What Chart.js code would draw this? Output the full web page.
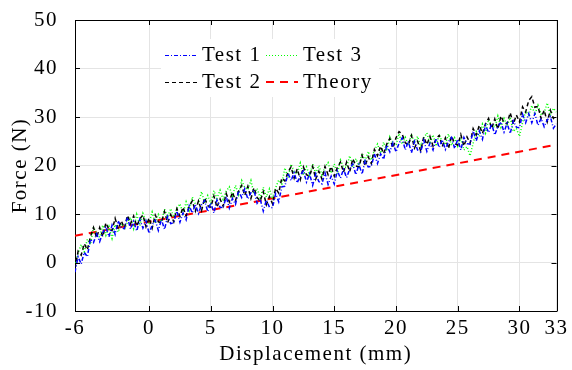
<!DOCTYPE html>
<html>
<head>
<meta charset="utf-8">
<script src="https://cdn.jsdelivr.net/npm/chart.js@4.4.1/dist/chart.umd.min.js"></script>
<style>
  html, body { margin: 0; padding: 0; background: #fff; }
  #wrap { width: 572px; height: 370px; }
</style>
</head>
<body>
<div id="wrap"><canvas id="myChart"></canvas></div>
<script>
// displacement (mm), sampled every 0.25 mm
const displacement = [
  -6, -5.75, -5.5, -5.25, -5, -4.75, -4.5, -4.25, -4, -3.75, -3.5, -3.25,
  -3, -2.75, -2.5, -2.25, -2, -1.75, -1.5, -1.25, -1, -0.75, -0.5, -0.25,
  0, 0.25, 0.5, 0.75, 1, 1.25, 1.5, 1.75, 2, 2.25, 2.5, 2.75,
  3, 3.25, 3.5, 3.75, 4, 4.25, 4.5, 4.75, 5, 5.25, 5.5, 5.75,
  6, 6.25, 6.5, 6.75, 7, 7.25, 7.5, 7.75, 8, 8.25, 8.5, 8.75,
  9, 9.25, 9.5, 9.75, 10, 10.25, 10.5, 10.75, 11, 11.25, 11.5, 11.75,
  12, 12.25, 12.5, 12.75, 13, 13.25, 13.5, 13.75, 14, 14.25, 14.5, 14.75,
  15, 15.25, 15.5, 15.75, 16, 16.25, 16.5, 16.75, 17, 17.25, 17.5, 17.75,
  18, 18.25, 18.5, 18.75, 19, 19.25, 19.5, 19.75, 20, 20.25, 20.5, 20.75,
  21, 21.25, 21.5, 21.75, 22, 22.25, 22.5, 22.75, 23, 23.25, 23.5, 23.75,
  24, 24.25, 24.5, 24.75, 25, 25.25, 25.5, 25.75, 26, 26.25, 26.5, 26.75,
  27, 27.25, 27.5, 27.75, 28, 28.25, 28.5, 28.75, 29, 29.25, 29.5, 29.75,
  30, 30.25, 30.5, 30.75, 31, 31.25, 31.5, 31.75, 32, 32.25, 32.5, 32.75,
  33
];

// force (N) per test
const test1 = [
  -2.0, 1.2, -0.3, 2.1, 1.2, 4.8, 4.1, 5.9, 4.3, 6.2, 7.4, 5.3,
  7.7, 5.8, 8.6, 7.1, 7.0, 9.3, 6.9, 8.5, 6.5, 8.9, 7.1, 8.6,
  6.0, 7.7, 8.7, 6.6, 8.9, 6.8, 9.5, 8.0, 8.2, 10.6, 8.3, 10.2,
  8.8, 11.7, 10.2, 12.0, 10.1, 11.9, 12.8, 10.5, 12.3, 10.2, 12.9, 11.4,
  11.3, 13.6, 11.2, 13.2, 12.0, 14.8, 13.4, 15.2, 13.1, 14.4, 14.9, 12.2,
  13.1, 10.6, 12.9, 11.4, 11.3, 14.2, 12.5, 15.6, 15.7, 18.4, 16.9, 18.5,
  16.4, 18.0, 18.9, 16.6, 18.3, 15.9, 18.3, 16.7, 16.2, 18.5, 16.1, 17.8,
  16.2, 18.9, 17.4, 19.2, 17.5, 19.3, 20.3, 18.1, 20.2, 18.2, 21.0, 19.7,
  19.8, 22.4, 20.4, 22.4, 21.3, 24.2, 22.8, 24.7, 22.8, 24.6, 25.7, 23.2,
  25.0, 22.6, 25.0, 23.2, 22.8, 25.2, 22.9, 24.6, 23.2, 25.6, 23.7, 25.3,
  23.3, 24.9, 25.8, 23.5, 25.4, 23.2, 25.8, 24.5, 24.4, 27.1, 25.1, 27.1,
  25.4, 28.3, 26.8, 28.6, 26.3, 28.0, 29.0, 26.9, 28.7, 26.6, 29.2, 27.9,
  27.8, 30.6, 28.8, 30.7, 28.8, 30.7, 28.3, 29.7, 28.0, 29.4, 30.1, 27.7,
  28.6
];

const test2 = [
  -1.2, 2.3, 1.5, 3.9, 2.6, 5.3, 7.2, 5.1, 7.2, 5.3, 8.2, 6.8,
  6.6, 9.1, 6.9, 8.6, 7.1, 9.7, 8.0, 9.6, 7.5, 9.0, 9.8, 7.4,
  9.2, 7.1, 9.8, 8.4, 8.2, 10.5, 8.2, 9.9, 8.4, 11.1, 9.5, 11.4,
  9.6, 11.6, 12.7, 10.6, 12.7, 10.7, 13.3, 11.7, 11.4, 13.7, 11.4, 13.1,
  11.6, 14.2, 12.5, 14.5, 12.8, 14.7, 15.9, 13.8, 15.7, 13.2, 15.4, 13.4,
  12.7, 14.6, 11.9, 13.6, 12.1, 15.3, 14.3, 17.4, 16.8, 18.6, 19.7, 17.4,
  19.3, 17.1, 19.7, 18.1, 17.8, 19.8, 17.2, 18.8, 17.2, 19.8, 18.1, 19.8,
  17.8, 19.6, 20.7, 18.6, 20.7, 18.7, 21.4, 19.9, 19.7, 22.1, 19.9, 21.8,
  20.4, 23.3, 22.0, 24.0, 22.4, 24.4, 25.6, 23.6, 25.7, 27.0, 26.5, 24.7,
  24.2, 26.2, 23.6, 25.0, 23.0, 25.9, 24.3, 26.0, 24.0, 25.5, 26.2, 23.9,
  25.7, 23.5, 26.1, 24.5, 24.2, 26.4, 24.0, 25.9, 24.6, 27.6, 26.3, 28.3,
  26.6, 28.6, 29.7, 27.6, 29.6, 27.5, 30.2, 28.8, 28.6, 30.9, 28.5, 30.4,
  29.0, 32.1, 31.0, 33.4, 34.2, 32.0, 32.2, 29.7, 31.4, 29.0, 31.4, 29.7,
  30.4
];

const test3 = [
  -0.7, 1.9, 3.7, 2.2, 4.8, 3.7, 7.3, 5.9, 5.2, 7.7, 5.6, 7.4,
  5.0, 7.8, 6.3, 8.0, 6.7, 8.4, 9.3, 7.0, 9.9, 7.6, 10.1, 8.4,
  8.1, 10.4, 8.1, 9.9, 8.4, 11.0, 9.4, 11.1, 9.3, 11.1, 12.1, 10.1,
  12.5, 10.7, 13.5, 12.1, 12.2, 14.6, 12.2, 13.8, 12.2, 14.8, 13.2, 14.9,
  13.0, 14.7, 15.6, 13.7, 15.9, 14.0, 16.9, 15.5, 15.0, 16.9, 14.1, 15.3,
  13.3, 15.5, 13.5, 15.2, 13.1, 15.4, 17.0, 16.2, 19.5, 17.5, 20.3, 18.7,
  18.3, 20.5, 18.1, 19.7, 18.0, 20.3, 18.4, 20.0, 18.0, 19.7, 20.6, 18.4,
  20.3, 18.3, 21.1, 19.7, 19.6, 22.0, 19.7, 21.4, 19.8, 22.5, 21.0, 22.9,
  21.1, 23.1, 24.4, 22.5, 24.8, 23.0, 25.9, 24.6, 24.2, 26.6, 24.4, 25.8,
  24.2, 26.5, 24.6, 26.0, 23.9, 25.7, 26.7, 24.5, 26.3, 24.0, 26.4, 24.8,
  24.3, 26.5, 24.1, 25.7, 24.0, 25.6, 23.2, 23.9, 22.0, 24.6, 27.0, 26.0,
  28.5, 26.7, 29.5, 28.1, 27.9, 30.2, 27.9, 29.7, 28.2, 29.9, 27.0, 27.6,
  26.0, 28.8, 31.2, 30.4, 32.4, 30.5, 32.4, 30.6, 30.9, 32.9, 30.3, 31.8,
  31.0
];

// theory line end points
const theoryX = [-6, 33];
const theoryY = [5.5, 24.3];

const xTicks = [-6, 0, 5, 10, 15, 20, 25, 30, 33];
const yTicks = [-10, 0, 10, 20, 30, 40, 50];

const serif = 'Liberation Serif';
const fnt = { family: serif, size: 21 };

function pairs(xs, ys) {
  return xs.map((x, i) => ({ x: x, y: ys[i] }));
}

// a bit of tracking so the Times-like font is as wide as the original
const spacing = {
  id: 'spacing',
  beforeDraw(chart) { chart.ctx.letterSpacing = '1.5px'; }
};

// inward tick marks, top/right frame and the 2x2 legend
const frameAndLegend = {
  id: 'frameAndLegend',
  afterDatasetsDraw(chart) {
    const ctx = chart.ctx;
    const a = chart.chartArea;
    const xs = chart.scales.x, ys = chart.scales.y;
    ctx.save();
    ctx.strokeStyle = '#000';
    ctx.lineWidth = 1;
    ctx.beginPath();
    xTicks.forEach(v => {
      const p = Math.round(xs.getPixelForValue(v)) + 0.5;
      ctx.moveTo(p, a.bottom); ctx.lineTo(p, a.bottom - 5);
      ctx.moveTo(p, a.top); ctx.lineTo(p, a.top + 5);
    });
    yTicks.forEach(v => {
      const p = Math.round(ys.getPixelForValue(v)) + 0.5;
      ctx.moveTo(a.left, p); ctx.lineTo(a.left + 5, p);
      ctx.moveTo(a.right, p); ctx.lineTo(a.right - 5, p);
    });
    ctx.stroke();
    ctx.beginPath();
    ctx.moveTo(Math.round(a.left) + 0.5, Math.round(a.top) + 0.5);
    ctx.lineTo(Math.round(a.right) + 0.5, Math.round(a.top) + 0.5);
    ctx.lineTo(Math.round(a.right) + 0.5, Math.round(a.bottom) + 0.5);
    ctx.stroke();

    // legend
    const lx = a.left + 90, ly = a.top + 19;
    ctx.fillStyle = '#fff';
    ctx.fillRect(lx - 4, ly, 218, 58);
    const items = [
      { ds: 0, col: 0, row: 0 },
      { ds: 2, col: 1, row: 0 },
      { ds: 1, col: 0, row: 1 },
      { ds: 3, col: 1, row: 1 }
    ];
    ctx.font = '21px "' + serif + '"';
    ctx.textBaseline = 'middle';
    ctx.textAlign = 'left';
    items.forEach(it => {
      const d = chart.data.datasets[it.ds];
      const x0 = lx + it.col * 101;
      const y0 = ly + 16 + it.row * 27;
      ctx.save();
      ctx.strokeStyle = d.borderColor;
      ctx.lineWidth = it.ds === 3 ? 2 : 1;
      ctx.setLineDash(d.borderDash);
      ctx.beginPath();
      ctx.moveTo(x0, y0 + (it.ds === 3 ? 0 : 0.5));
      ctx.lineTo(x0 + 32, y0 + (it.ds === 3 ? 0 : 0.5));
      ctx.stroke();
      ctx.restore();
      ctx.fillStyle = '#000';
      ctx.fillText(d.label, x0 + 37, y0);
    });
    ctx.restore();
  }
};

new Chart(document.getElementById('myChart'), {
  type: 'line',
  data: {
    datasets: [
      {
        label: 'Test 1',
        data: pairs(displacement, test1),
        borderColor: '#0000ff',
        borderWidth: 1.5,
        borderDash: [4, 2, 1, 2]
      },
      {
        label: 'Test 2',
        data: pairs(displacement, test2),
        borderColor: '#000000',
        borderWidth: 1.5,
        borderDash: [4, 3]
      },
      {
        label: 'Test 3',
        data: pairs(displacement, test3),
        borderColor: '#00ff00',
        borderWidth: 1.5,
        borderDash: [1, 2]
      },
      {
        label: 'Theory',
        data: pairs(theoryX, theoryY),
        borderColor: '#ff0000',
        borderWidth: 2,
        borderDash: [8, 6]
      }
    ]
  },
  options: {
    responsive: true,
    maintainAspectRatio: false,
    animation: false,
    elements: { point: { radius: 0 }, line: { tension: 0, fill: false } },
    layout: { padding: { left: 0, right: 12, top: 20, bottom: 0 } },
    plugins: { legend: { display: false }, tooltip: { enabled: false } },
    scales: {
      x: {
        type: 'linear',
        min: -6,
        max: 33,
        afterBuildTicks: s => { s.ticks = xTicks.map(v => ({ value: v })); },
        afterFit: s => { s.height = 59; },
        grid: { color: '#e4e4e4', drawTicks: false },
        border: { display: true, color: '#000', width: 1 },
        ticks: { color: '#000', font: fnt, padding: 5, maxRotation: 0, autoSkip: false },
        title: { display: true, text: 'Displacement (mm)', color: '#000', font: fnt, padding: { top: 0, bottom: 3 } }
      },
      y: {
        min: -10,
        max: 50,
        afterBuildTicks: s => { s.ticks = yTicks.map(v => ({ value: v })); },
        afterFit: s => { s.width = 75; },
        grid: { color: '#e4e4e4', drawTicks: true, tickLength: 17, tickColor: 'rgba(0,0,0,0)' },
        border: { display: true, color: '#000', width: 1 },
        ticks: { color: '#000', font: fnt, padding: 0 },
        title: { display: true, text: 'Force (N)', color: '#000', font: fnt, padding: { top: 8, bottom: 0 } }
      }
    }
  },
  plugins: [spacing, frameAndLegend]
});
</script>
</body>
</html>
